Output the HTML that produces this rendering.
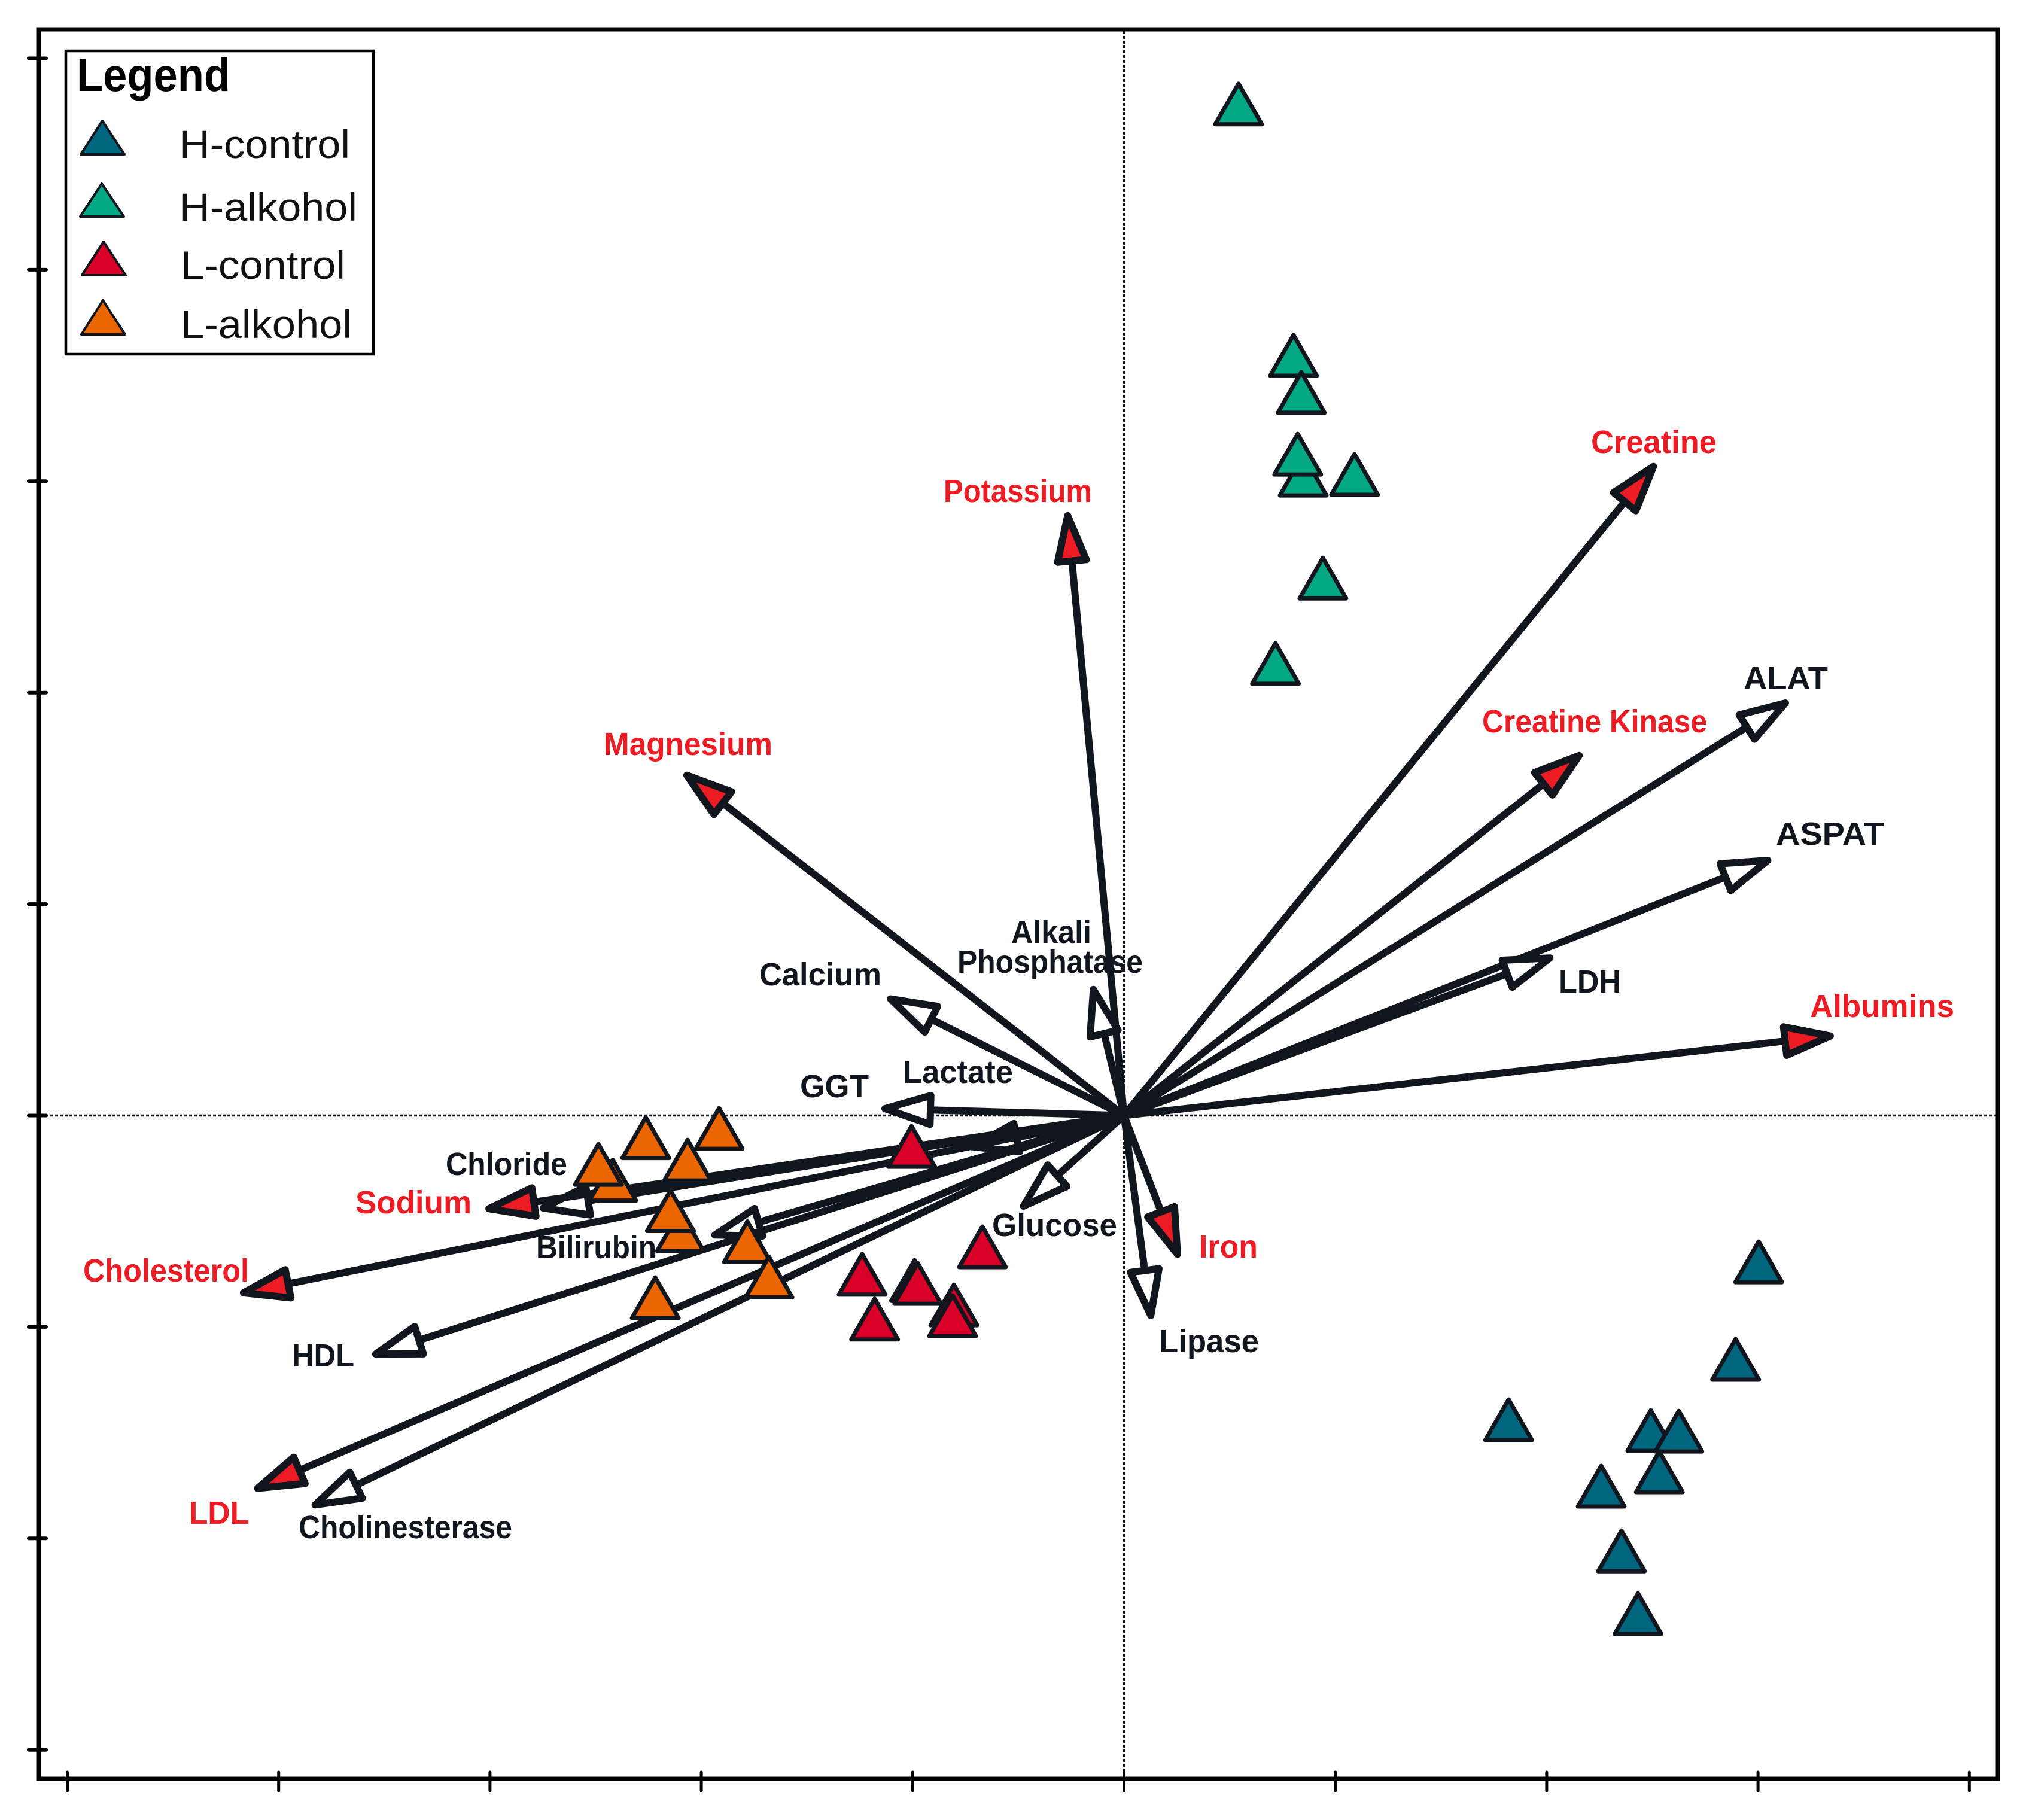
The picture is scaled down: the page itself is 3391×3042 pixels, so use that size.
<!DOCTYPE html>
<html lang="en">
<head>
<meta charset="utf-8">
<title>PCA biplot</title>
<style>
html,body{margin:0;padding:0;background:#fff;}
svg{display:block;}
text{font-family:"Liberation Sans",sans-serif;}
.lab{font-weight:700;font-size:54px;fill:#11161e;}
.red{fill:#ed1c24;}
.leg{font-size:66px;fill:#111;}
</style>
</head>
<body>
<svg id="chart" xmlns="http://www.w3.org/2000/svg" width="3391" height="3042" viewBox="0 0 3391 3042">
  <rect x="0" y="0" width="3391" height="3042" fill="#fff"/>
  <g id="guides"></g>
  <g id="ticks"></g>
  <rect x="65" y="49" width="3274" height="2924" fill="none" stroke="#000" stroke-width="7"/>
  <g id="arrows"></g>
  <g id="points"></g>

  <g>
    <text class="lab red" x="2659" y="757" textLength="210" lengthAdjust="spacingAndGlyphs">Creatine</text>
    <text class="lab red" x="1577" y="839" textLength="248" lengthAdjust="spacingAndGlyphs">Potassium</text>
    <text class="lab" x="2914" y="1152" textLength="141" lengthAdjust="spacingAndGlyphs">ALAT</text>
    <text class="lab red" x="2477" y="1224" textLength="376" lengthAdjust="spacingAndGlyphs">Creatine Kinase</text>
    <text class="lab red" x="1009" y="1262" textLength="282" lengthAdjust="spacingAndGlyphs">Magnesium</text>
    <text class="lab" x="2968" y="1412" textLength="181" lengthAdjust="spacingAndGlyphs">ASPAT</text>
    <text class="lab" x="1690" y="1576" textLength="134" lengthAdjust="spacingAndGlyphs">Alkali</text>
    <text class="lab" x="1600" y="1626" textLength="310" lengthAdjust="spacingAndGlyphs">Phosphatase</text>
    <text class="lab" x="1269" y="1647" textLength="204" lengthAdjust="spacingAndGlyphs">Calcium</text>
    <text class="lab" x="2605" y="1659" textLength="104" lengthAdjust="spacingAndGlyphs">LDH</text>
    <text class="lab red" x="3025" y="1700" textLength="241" lengthAdjust="spacingAndGlyphs">Albumins</text>
    <text class="lab" x="1509" y="1810" textLength="184" lengthAdjust="spacingAndGlyphs">Lactate</text>
    <text class="lab" x="1337" y="1834" textLength="115" lengthAdjust="spacingAndGlyphs">GGT</text>
    <text class="lab" x="745" y="1964" textLength="203" lengthAdjust="spacingAndGlyphs">Chloride</text>
    <text class="lab red" x="594" y="2028" textLength="194" lengthAdjust="spacingAndGlyphs">Sodium</text>
    <text class="lab" x="1658" y="2066" textLength="209" lengthAdjust="spacingAndGlyphs">Glucose</text>
    <text class="lab red" x="2004" y="2102" textLength="98" lengthAdjust="spacingAndGlyphs">Iron</text>
    <text class="lab" x="896" y="2103" textLength="201" lengthAdjust="spacingAndGlyphs">Bilirubin</text>
    <text class="lab red" x="139" y="2142" textLength="277" lengthAdjust="spacingAndGlyphs">Cholesterol</text>
    <text class="lab" x="1937" y="2260" textLength="167" lengthAdjust="spacingAndGlyphs">Lipase</text>
    <text class="lab" x="488" y="2284" textLength="104" lengthAdjust="spacingAndGlyphs">HDL</text>
    <text class="lab red" x="316" y="2547" textLength="100" lengthAdjust="spacingAndGlyphs">LDL</text>
    <text class="lab" x="499" y="2571" textLength="357" lengthAdjust="spacingAndGlyphs">Cholinesterase</text>
  </g>

  <g>
    <rect x="110" y="85" width="514" height="507" fill="#fff" stroke="#000" stroke-width="4.5"/>
    <text x="128" y="152" font-size="78" font-weight="700" fill="#000" textLength="257" lengthAdjust="spacingAndGlyphs">Legend</text>
    <polygon points="171,202 135,258 208,258" fill="#00657f" stroke="#11161e" stroke-width="4" stroke-linejoin="round"/>
    <text class="leg" x="300" y="264" textLength="285" lengthAdjust="spacingAndGlyphs">H-control</text>
    <polygon points="170,307 134,362 207,362" fill="#05a884" stroke="#11161e" stroke-width="4" stroke-linejoin="round"/>
    <text class="leg" x="300" y="369" textLength="297" lengthAdjust="spacingAndGlyphs">H-alkohol</text>
    <polygon points="173,404 137,460 210,460" fill="#d80027" stroke="#11161e" stroke-width="4" stroke-linejoin="round"/>
    <text class="leg" x="302" y="466" textLength="275" lengthAdjust="spacingAndGlyphs">L-control</text>
    <polygon points="172,502 136,559 209,559" fill="#eb6500" stroke="#11161e" stroke-width="4" stroke-linejoin="round"/>
    <text class="leg" x="302" y="565" textLength="286" lengthAdjust="spacingAndGlyphs">L-alkohol</text>
  </g>
</svg>

<script>
// Axis ticks (tick units)
const xTickValues = [-5, -4, -3, -2, -1, 0, 1, 2, 3, 4];
const yTickValues = [5, 4, 3, 2, 1, 0, -1, -2, -3];

// Variable loadings
const variables = ["Potassium", "Creatine", "ALAT", "Creatine Kinase", "ASPAT", "LDH", "Albumins", "Magnesium", "Calcium", "Alkali Phosphatase", "GGT", "Lactate", "Lipase", "Iron", "Glucose", "Bilirubin", "Cholinesterase", "LDL", "HDL", "Cholesterol", "Chloride", "Sodium"];
const loadingX = [-0.268, 2.516, 3.144, 2.167, 3.062, 2.031, 3.359, -2.082, -1.120, -0.149, -1.148, -0.735, 0.129, 0.259, -0.488, -1.952, -3.843, -4.115, -3.557, -4.183, -2.765, -3.022];
const loadingY = [2.854, 3.083, 1.960, 1.713, 1.213, 0.751, 0.378, 1.620, 0.559, 0.613, 0.033, -0.151, -0.963, -0.672, -0.440, -0.570, -1.849, -1.770, -1.133, -0.842, -0.440, -0.443];
const redVariables = ["Potassium", "Creatine", "Creatine Kinase", "Albumins", "Magnesium", "Iron", "LDL", "Cholesterol", "Sodium"];

// Sample scores per group
const hControlX = [3.003, 2.894, 1.820, 2.493, 2.625, 2.533, 2.258, 2.354, 2.432];
const hControlY = [-0.692, -1.153, -1.439, -1.490, -1.493, -1.685, -1.753, -2.059, -2.356];
const hAlkoholX = [0.542, 0.802, 0.839, 0.848, 1.091, 0.822, 0.941, 0.717];
const hAlkoholY = [4.784, 3.595, 3.420, 3.029, 3.032, 3.128, 2.542, 2.138];
const lControlX = [-1.005, -0.670, -1.239, -0.991, -0.976, -0.805, -0.811, -1.180];
const lControlY = [-0.146, -0.621, -0.751, -0.780, -0.794, -0.896, -0.947, -0.963];
const lAlkoholX = [-1.916, -2.263, -2.419, -2.487, -2.065, -2.099, -2.146, -1.782, -1.680, -2.218];
const lAlkoholY = [-0.061, -0.105, -0.306, -0.231, -0.211, -0.545, -0.450, -0.597, -0.764, -0.862];

const SVG_NS = "http://www.w3.org/2000/svg";
const INK = "#11161e";
const xScale = function (v) { return 1878.5 + v * 353.2; };
const yScale = function (v) { return 1864.5 - v * 353.4; };

function make(tag, attrs, parent) {
  const el = document.createElementNS(SVG_NS, tag);
  for (const k in attrs) { el.setAttribute(k, attrs[k]); }
  parent.appendChild(el);
  return el;
}
function slug(s) { return s.toLowerCase().replace(/[^a-z0-9]+/g, "-"); }

// Origin guide lines
const guides = document.getElementById("guides");
const hGuide = make("line", {x1: 68, y1: yScale(0), x2: 3336, y2: yScale(0), stroke: INK, "stroke-width": 3.5, "stroke-dasharray": "5 3"}, guides);


const vGuide = make("line", {x1: xScale(0), y1: 52, x2: xScale(0), y2: 2970, stroke: INK, "stroke-width": 3.5, "stroke-dasharray": "5 3"}, guides);



// Ticks
const ticks = document.getElementById("ticks");
xTickValues.forEach(function (v) {
  const t = make("line", {x1: xScale(v), y1: 2962, x2: xScale(v), y2: 2993, stroke: "#000", "stroke-width": 5, "stroke-linecap": "round"}, ticks);
  
  
});
yTickValues.forEach(function (v) {
  const t = make("line", {x1: 48, y1: yScale(v), x2: 77, y2: yScale(v), stroke: "#000", "stroke-width": 6, "stroke-linecap": "round"}, ticks);
  
  
});

// Arrows: shafts first, then heads, all radiating from the origin
const arrows = document.getElementById("arrows");
const HEAD_LEN = 88, HEAD_HALF = 30, ARROW_W = 12, SHAFT_W = 12;
variables.forEach(function (name, i) {
  const ox = xScale(0), oy = yScale(0);
  const tx = xScale(loadingX[i]), ty = yScale(loadingY[i]);
  const d = Math.hypot(tx - ox, ty - oy);
  const ux = (tx - ox) / d, uy = (ty - oy) / d;
  const inset = ARROW_W / 2;
  const baseLen = HEAD_LEN - inset;
  const bx = tx - ux * baseLen, by = ty - uy * baseLen;
  const hw = HEAD_HALF - inset;
  const g = make("g", {}, arrows);
  
  
  const shaft = make("line", {x1: ox, y1: oy, x2: bx, y2: by, stroke: INK, "stroke-width": SHAFT_W}, g);
  
  
  const pts = [
    [tx - ux * inset, ty - uy * inset],
    [bx - uy * hw, by + ux * hw],
    [bx + uy * hw, by - ux * hw]
  ].map(function (p) { return p[0].toFixed(1) + "," + p[1].toFixed(1); }).join(" ");
  const head = make("polygon", {points: pts, fill: redVariables.indexOf(name) >= 0 ? "#ed1c24" : "#fff", stroke: INK, "stroke-width": ARROW_W, "stroke-linejoin": "round"}, g);
  
  
});

// Sample triangles
const points = document.getElementById("points");
function drawGroup(label, xs, ys, color) {
  const g = make("g", {}, points);
  
  
  xs.forEach(function (v, i) {
    const cx = xScale(v), cy = yScale(ys[i]);
    const pts = [[cx, cy - 34], [cx - 39, cy + 34], [cx + 39, cy + 34]]
      .map(function (p) { return p[0].toFixed(1) + "," + p[1].toFixed(1); }).join(" ");
    const tri = make("polygon", {points: pts, fill: color, stroke: INK, "stroke-width": 7, "stroke-linejoin": "round"}, g);
    
    
  });
}
drawGroup("h-control", hControlX, hControlY, "#00657f");
drawGroup("h-alkohol", hAlkoholX, hAlkoholY, "#05a884");
drawGroup("l-control", lControlX, lControlY, "#d80027");
drawGroup("l-alkohol", lAlkoholX, lAlkoholY, "#eb6500");
</script>
</body>
</html>
